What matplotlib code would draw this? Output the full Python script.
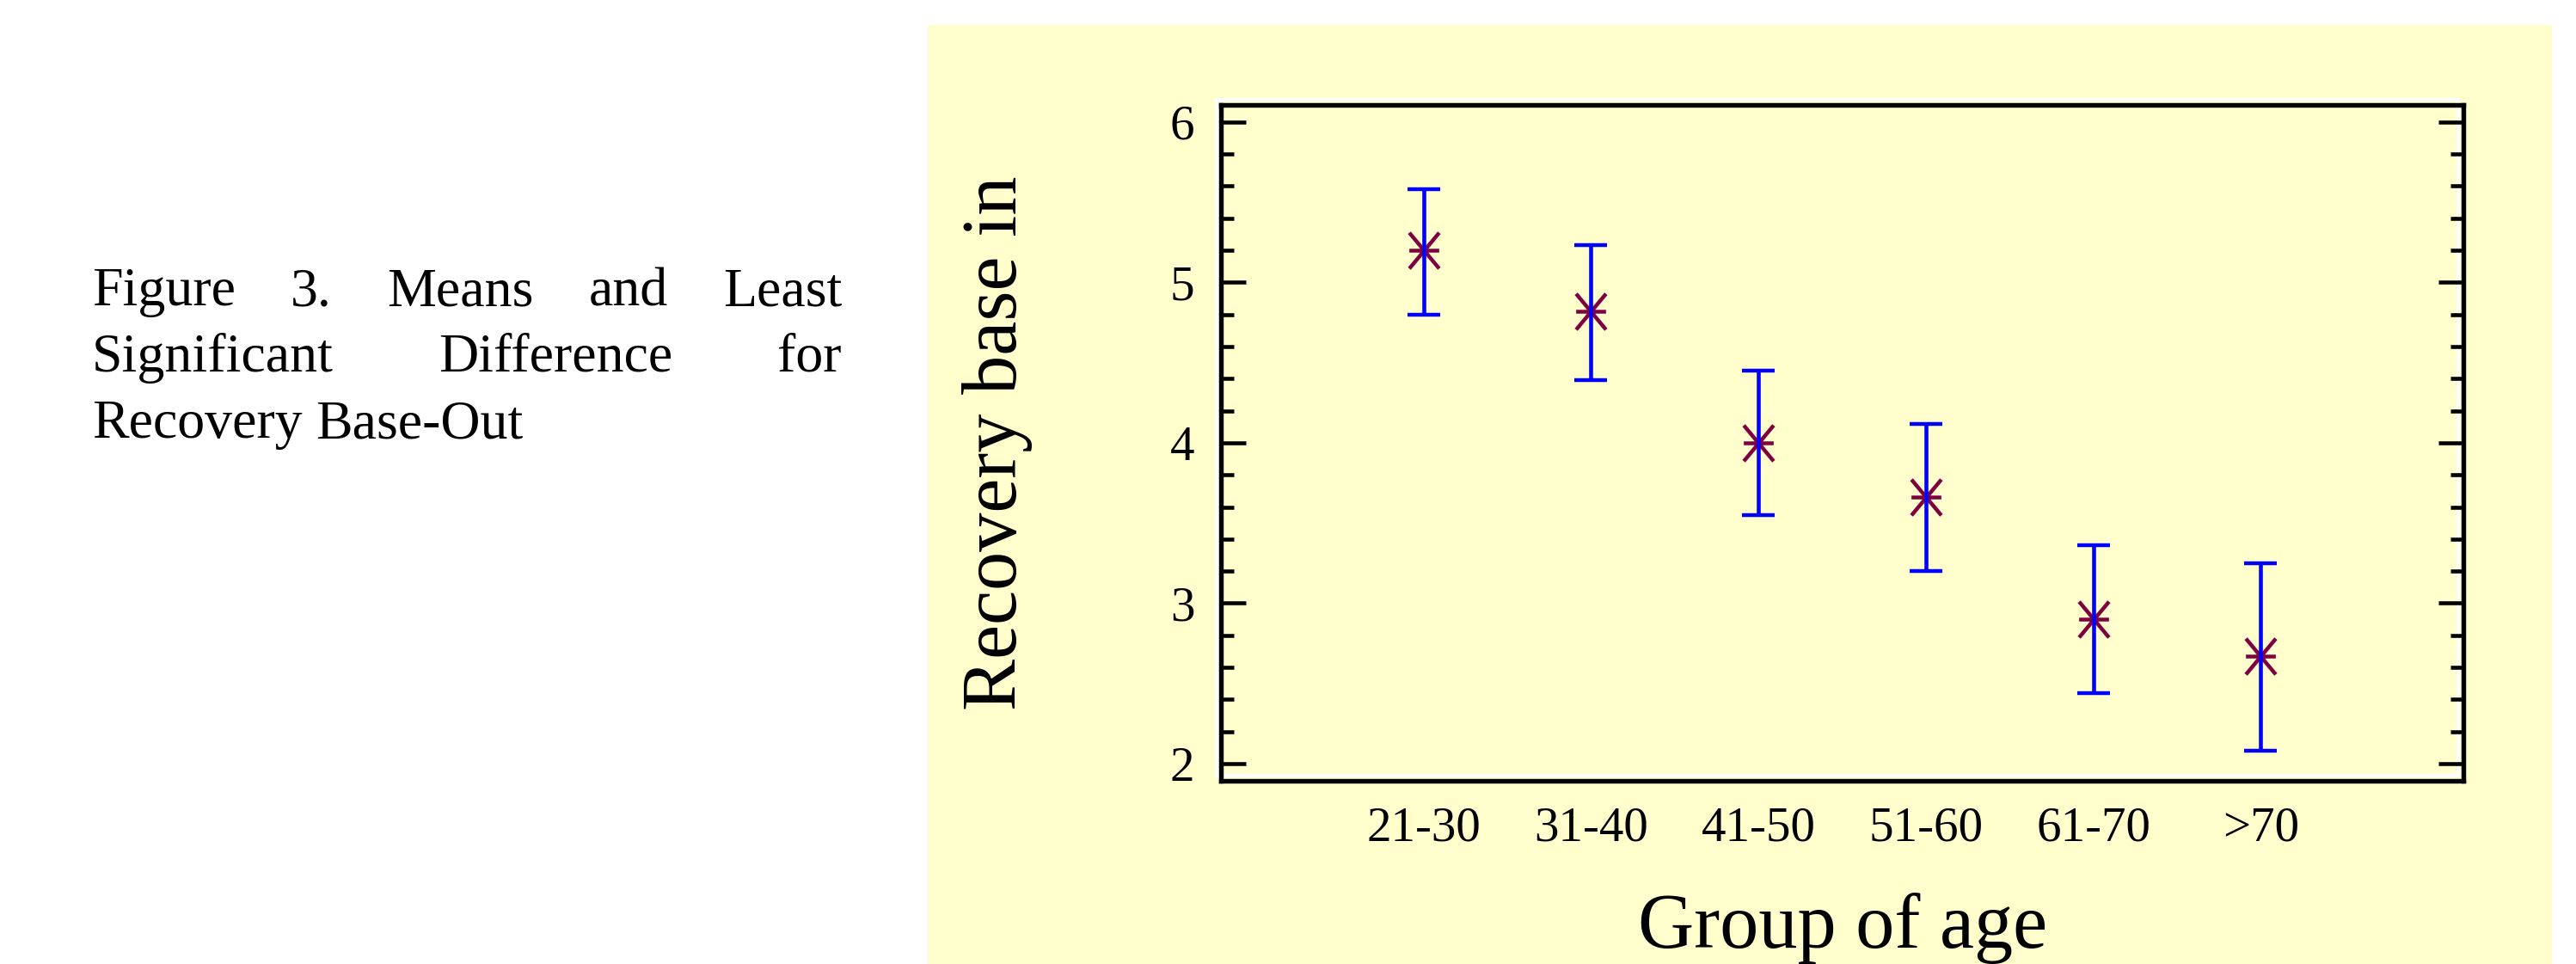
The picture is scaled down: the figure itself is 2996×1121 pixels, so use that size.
import matplotlib.pyplot as plt
import numpy as np
from matplotlib.patches import Rectangle
from matplotlib.path import Path
from matplotlib.ticker import MultipleLocator

# values
age_groups = ["21-30", "31-40", "41-50", "51-60", "61-70", ">70"]
means = [5.20, 4.82, 4.00, 3.66, 2.90, 2.67]
lsd_lower = [4.80, 4.39, 3.55, 3.20, 2.44, 2.08]
lsd_upper = [5.58, 5.23, 4.45, 4.12, 3.36, 3.25]

caption_lines = [
    ["Figure", "3.", "Means", "and", "Least"],
    ["Significant", "Difference", "for"],
    ["Recovery", "Base-Out"],
]

W, H = 2996, 1121
DPI = 100
SERIF = ["Liberation Serif", "DejaVu Serif"]
PANEL = "#FFFECC"
MAROON = "#7F0040"


def px(x, y):
    """Pixel position (from top-left) to figure fraction."""
    return x / W, 1 - y / H


def asterisk_marker():
    verts = [(-1, 0), (1, 0), (-1, -1.2), (1, 1.2), (-1, 1.2), (1, -1.2)]
    codes = [Path.MOVETO, Path.LINETO] * 3
    return Path(verts, codes)


def draw_caption(fig):
    renderer = fig.canvas.get_renderer()
    left, right = 107, 979
    baselines = [355, 432, 509]
    size = 46
    for i, words in enumerate(caption_lines):
        texts = [fig.text(0, 0, w, fontsize=size, family=SERIF, va="baseline") for w in words]
        widths = [t.get_window_extent(renderer).width for t in texts]
        if i < len(caption_lines) - 1:
            gap = (right - left - sum(widths)) / (len(words) - 1)
        else:
            gap = size * DPI / 72 * 0.25
        x = left
        for t, w in zip(texts, widths):
            t.set_position(px(x, baselines[i]))
            x += w + gap


def plot_lsd(output_path):
    fig = plt.figure(figsize=(W / DPI, H / DPI), dpi=DPI, facecolor="white")

    x0, y0 = px(1079, H)
    x1, y1 = px(2968, 29)
    fig.patches.append(Rectangle((x0, y0), x1 - x0, y1 - y0, transform=fig.transFigure,
                                 facecolor=PANEL, edgecolor="none", zorder=0))

    # white "shadow" frame offset up-left of the black axes box
    sx0, sy0 = px(1415, 902)
    sx1, sy1 = px(2859, 116)
    fig.patches.append(Rectangle((sx0, sy0), sx1 - sx0, sy1 - sy0, transform=fig.transFigure,
                                 facecolor="none", edgecolor="white", linewidth=3, zorder=1))

    ax_l, ax_b = px(1420, 908)
    ax_r, ax_t = px(2865, 122)
    ax = fig.add_axes([ax_l, ax_b, ax_r - ax_l, ax_t - ax_b])
    ax.set_facecolor(PANEL)
    ax.patch.set_alpha(0)
    ax.set_zorder(2)

    x = np.arange(len(age_groups))
    means_arr = np.array(means)
    yerr = [means_arr - np.array(lsd_lower), np.array(lsd_upper) - means_arr]

    ax.plot(x, means, linestyle="none", marker=asterisk_marker(), markersize=30,
            markeredgewidth=3.2, markeredgecolor=MAROON, markerfacecolor="none", zorder=2)
    ax.errorbar(x, means, yerr=yerr, fmt="none", ecolor="#0000FF", elinewidth=3.3,
                capsize=14, capthick=3.2, zorder=3)

    ax.set_xlim(-1.21, 6.21)
    ax.set_ylim(1.893, 6.106)
    ax.set_xticks(x)
    ax.set_xticklabels(age_groups)
    ax.yaxis.set_major_locator(MultipleLocator(1))
    ax.yaxis.set_minor_locator(MultipleLocator(0.2))

    for spine in ax.spines.values():
        spine.set_linewidth(3.9)
    ax.tick_params(axis="x", length=0, pad=21)
    ax.tick_params(axis="y", which="both", direction="in", left=True, right=True, width=3.3, pad=22)
    ax.tick_params(axis="y", which="major", length=21)
    ax.tick_params(axis="y", which="minor", length=11)
    for lbl in ax.get_xticklabels() + ax.get_yticklabels():
        lbl.set_family(SERIF)
        lbl.set_fontsize(41)

    fig.text(*px(1182, 515), "Recovery base in", fontsize=65, family=SERIF, rotation=90,
             rotation_mode="anchor", ha="center", va="baseline")
    fig.text(*px(2143, 1102), "Group of age", fontsize=65, family=SERIF,
             ha="center", va="baseline")

    draw_caption(fig)

    fig.savefig(output_path, dpi=DPI, facecolor="white")
    plt.close(fig)


if __name__ == "__main__":
    plot_lsd("out.png")
